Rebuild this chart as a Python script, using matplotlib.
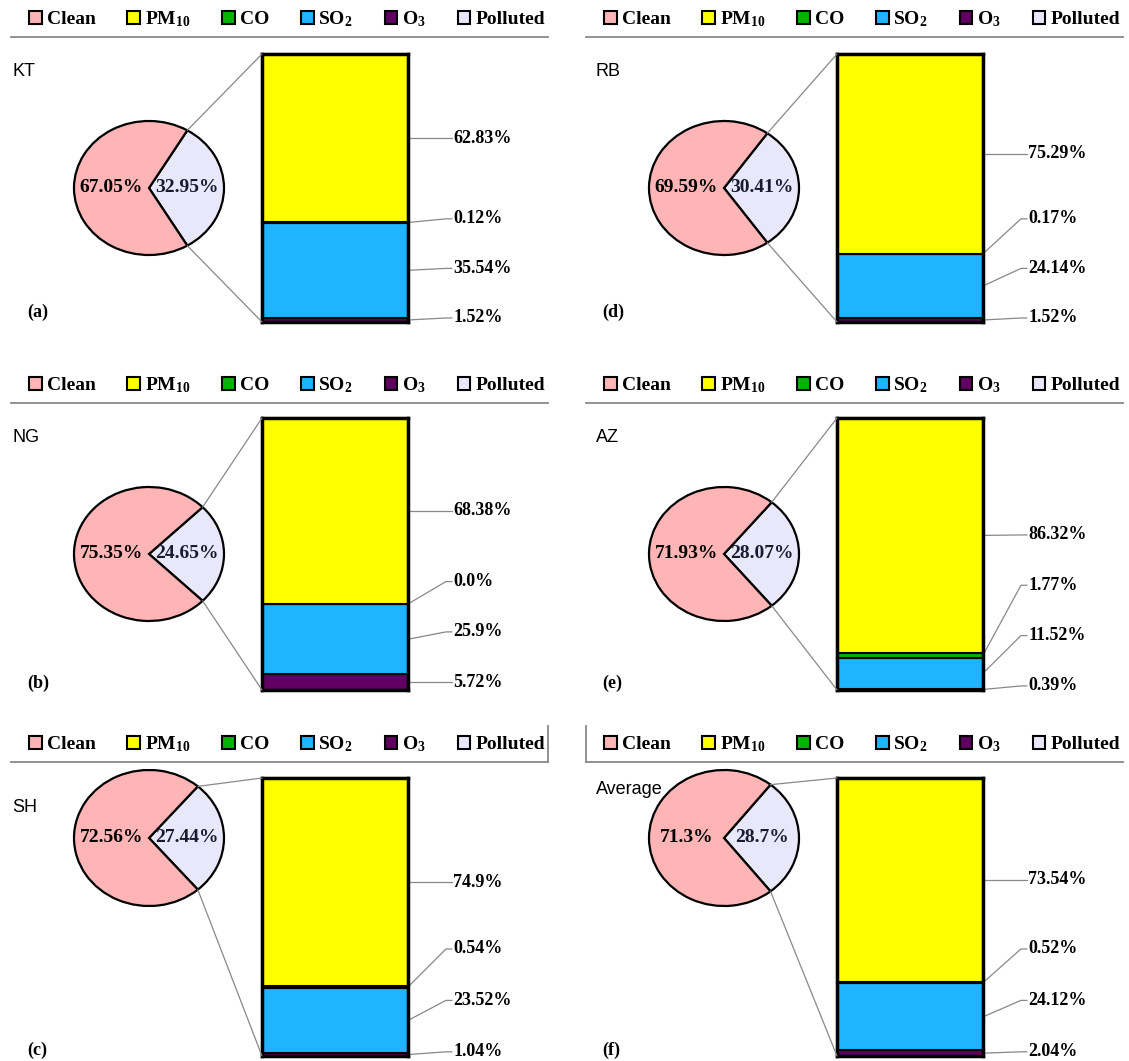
import matplotlib
matplotlib.use("Agg")
import matplotlib.pyplot as plt
from matplotlib.patches import Patch, ConnectionPatch
import numpy as np

plt.rcParams['font.family'] = ['Liberation Serif', 'DejaVu Serif']
plt.rcParams['mathtext.default'] = 'regular'

# données (%)
stations = ["KT", "RB", "NG", "AZ", "SH", "Average"]
tags = ["(a)", "(d)", "(b)", "(e)", "(c)", "(f)"]
clean = [67.05, 69.59, 75.35, 71.93, 72.56, 71.3]
polluted = [32.95, 30.41, 24.65, 28.07, 27.44, 28.7]
pm10 = [62.83, 75.29, 68.38, 86.32, 74.9, 73.54]
co = [0.12, 0.17, 0.0, 1.77, 0.54, 0.52]
so2 = [35.54, 24.14, 25.9, 11.52, 23.52, 24.12]
o3 = [1.52, 1.52, 5.72, 0.39, 1.04, 2.04]

legend_labels = ["Clean", "PM$_{10}$", "CO", "SO$_2$", "O$_3$", "Polluted"]

# couleurs
c_clean = '#FFB5B5'
c_poll = '#E8E8FA'
c_pm10 = '#FFFF00'
c_co = '#00B400'
c_so2 = '#1EB4FF'
c_o3 = '#600060'
c_line = '#888888'

W, H = 1129, 1061
fig = plt.figure(figsize=(W / 100, H / 100), dpi=100)


def rect(x0, y0, x1, y1):
    return [x0 / W, 1 - y1 / H, (x1 - x0) / W, (y1 - y0) / H]


# mise en page (pixels)
col_dx = [0, 575]
row_line = [37, 403, 762]
row_pie_cy = [188, 554, 838]
row_pie_ry = [67, 67, 68]
row_bar = [(54, 322), (418, 690), (778, 1056)]
row_name = [[72, 72], [437, 438], [807, 790]]
row_tag = [312, 683, 1050]

for k in range(6):
    r, c = k // 2, k % 2
    dx = col_dx[c]

    # --- légende ---
    lax = fig.add_axes(rect(11 + dx, row_line[r] - 36, 548 + dx, row_line[r]))
    lax.set_xticks([])
    lax.set_yticks([])
    lax.patch.set_alpha(0)
    for s in lax.spines.values():
        s.set_visible(False)
    lax.spines['bottom'].set_visible(True)
    lax.spines['bottom'].set_color(c_line)
    lax.spines['bottom'].set_linewidth(1.3)
    if r == 2:
        side = 'right' if c == 0 else 'left'
        lax.spines[side].set_visible(True)
        lax.spines[side].set_color(c_line)
        lax.spines[side].set_linewidth(1.3)
    handles = [Patch(facecolor=col, edgecolor='black', linewidth=1.5)
               for col in [c_clean, c_pm10, c_co, c_so2, c_o3, c_poll]]
    lax.legend(handles, legend_labels, loc='center', ncol=6, mode='expand',
               bbox_to_anchor=(0.034, 0, 0.96, 1), frameon=False,
               handlelength=0.65, handleheight=0.65, handletextpad=0.25,
               borderaxespad=0, borderpad=0,
               prop=dict(family='Liberation Serif', weight='bold', size=14))

    # --- camembert ---
    cx, cy = 149 + dx, row_pie_cy[r]
    rx, ry = 75, row_pie_ry[r]
    pax = fig.add_axes(rect(cx - rx, cy - ry, cx + rx, cy + ry))
    wedges, _ = pax.pie([polluted[k], clean[k]], colors=[c_poll, c_clean],
                        startangle=-polluted[k] * 1.8, counterclock=True,
                        wedgeprops=dict(edgecolor='black', linewidth=1.6))
    for w in wedges:
        w.set_clip_on(False)
    pax.set_aspect('auto')
    pax.set_xlim(-1, 1)
    pax.set_ylim(-1, 1)
    pax.axis('off')
    pax.text(-0.5, 0, f"{clean[k]}%", ha='center', va='center',
             fontsize=14, fontweight='bold')
    pax.text(0.5, 0, f"{polluted[k]}%", ha='center', va='center',
             fontsize=14, fontweight='bold', color='#1a1a30')

    # --- barre empilée ---
    by0, by1 = row_bar[r]
    bax = fig.add_axes(rect(262 + dx, by0, 408 + dx, by1))
    vals = [o3[k], so2[k], co[k], pm10[k]]
    cols = [c_o3, c_so2, c_co, c_pm10]
    total = sum(vals)
    bottom = 0
    centers = []
    for v, col in zip(vals, cols):
        bax.bar(0, v, width=1, bottom=bottom, color=col, edgecolor='black',
                linewidth=1.5, clip_on=False)
        centers.append(bottom + v / 2)
        bottom += v
    bax.set_xlim(-0.5, 0.5)
    bax.set_ylim(0, total)
    bax.set_xticks([])
    bax.set_yticks([])
    for s in bax.spines.values():
        s.set_linewidth(2.5)
        s.set_zorder(5)

    # étiquettes à droite
    gap = 0.185 * total
    prev = None
    for v, cen in zip(vals, centers):
        if prev is None:
            ly = max(cen, 0.015 * total)
        else:
            ly = max(cen, prev + gap)
        prev = ly
        bax.plot([0.5, 0.76, 0.80], [cen, ly, ly], color=c_line, lw=0.9,
                 clip_on=False, zorder=1)
        bax.text(0.81, ly, f"{v}%", ha='left', va='center', fontsize=13,
                 fontweight='bold')

    # lignes de liaison camembert -> barre
    t = np.deg2rad(polluted[k] * 1.8)
    for sgn, ytop in [(1, total), (-1, 0)]:
        con = ConnectionPatch(xyA=(np.cos(t), sgn * np.sin(t)), coordsA=pax.transData,
                              xyB=(-0.5, ytop), coordsB=bax.transData,
                              color=c_line, lw=0.9)
        fig.add_artist(con)

    # nom de station et lettre
    fig.text((12 + dx * 1.015) / W, 1 - row_name[r][c] / H, stations[k],
             family='Liberation Sans', fontsize=13, va='center', ha='left')
    fig.text((27 + dx) / W, 1 - row_tag[r] / H, tags[k],
             fontsize=13, fontweight='bold', va='center', ha='left')

fig.savefig("out.png", dpi=100)
